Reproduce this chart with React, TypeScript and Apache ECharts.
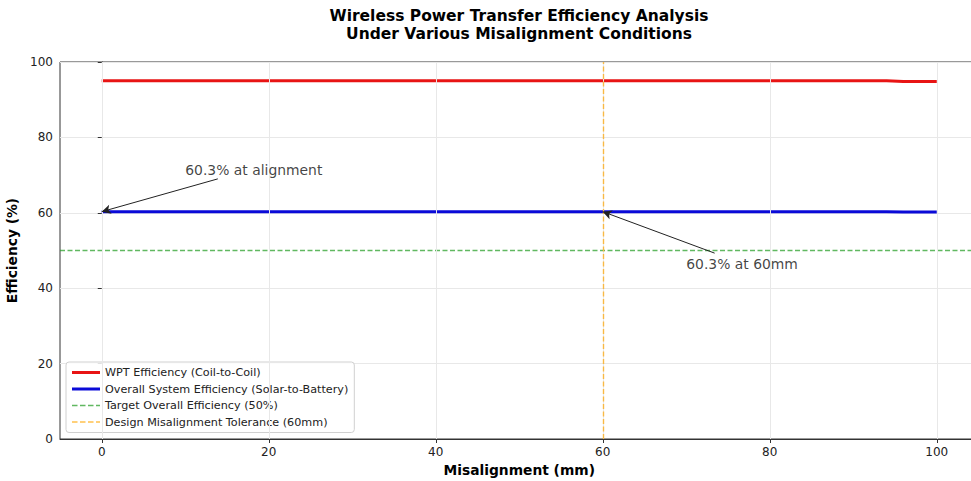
import React, { useEffect, useRef } from "react";
import * as echarts from "echarts";

const misalignment = [0, 10, 20, 30, 40, 50, 60, 70, 80, 90, 94, 96, 100];
const wptEfficiency = [95.0, 95.0, 95.0, 95.0, 95.0, 95.0, 95.0, 95.0, 95.0, 95.0, 95.0, 94.8, 94.8];
const overallEfficiency = [60.3, 60.3, 60.3, 60.3, 60.3, 60.3, 60.3, 60.3, 60.3, 60.3, 60.3, 60.2, 60.2];
const targetEfficiency = 50;
const designTolerance = 60;
const xTicks = [0, 20, 40, 60, 80, 100];
const xRange = [-5, 105];
const yRange = [0, 100];

const annotationTexts = ["60.3% at alignment", "60.3% at 60mm"];
const annotationTextPos = [[10, 71.4], [70, 46.4]];
const annotationTails = [[13.9, 69.0], [73.4, 49.3]];
const annotationHeads = [[0, 60.3], [60, 60.3]];

const FONT = "DejaVu Sans";

const SOLID_ICON = "path://M0,0H28V3H0Z";
const DASH_ICON =
  "path://M0,0H5.5V1.5H0ZM8,0H13.5V1.5H8ZM16,0H21.5V1.5H16ZM24,0H28V1.5H24Z";

export default function App() {
  const ref = useRef<HTMLDivElement>(null);
  useEffect(() => {
    const chart = echarts.init(ref.current!, null, { renderer: "svg" });
    const legendNames = [
      "WPT Efficiency (Coil-to-Coil)",
      "Overall System Efficiency (Solar-to-Battery)",
      "Target Overall Efficiency (50%)",
      "Design Misalignment Tolerance (60mm)",
    ];
    const orange = "rgba(255,165,0,0.7)";
    const green = "rgba(44,160,44,0.75)";
    const titleStyle = {
      fontFamily: FONT,
      fontWeight: "bold",
      fontSize: 15.5,
      lineHeight: 15.5,
      color: "#000",
    };
    chart.setOption({
      animation: false,
      backgroundColor: "#ffffff",
      title: {
        text: "Wireless Power Transfer Efficiency Analysis",
        subtext: "Under Various Misalignment Conditions",
        left: 519,
        top: 8,
        padding: 0,
        itemGap: 2,
        textAlign: "center",
        textStyle: titleStyle,
        subtextStyle: titleStyle,
      },
      legend: {
        data: [
          { name: legendNames[0], icon: SOLID_ICON },
          { name: legendNames[1], icon: SOLID_ICON },
          { name: legendNames[2], icon: DASH_ICON },
          { name: legendNames[3], icon: DASH_ICON },
        ],
        orient: "vertical",
        left: 66,
        top: 362,
        itemWidth: 28,
        itemHeight: 10,
        itemGap: 5.5,
        padding: [5, 6, 5, 6],
        backgroundColor: "rgba(255,255,255,0.85)",
        borderColor: "#d0d0d0",
        borderWidth: 1,
        borderRadius: 3,
        textStyle: { fontFamily: FONT, fontSize: 11.2, color: "#222" },
      },
      grid: {
        left: 60,
        top: 62,
        width: 918.5,
        height: 377,
        show: true,
        borderColor: "#333",
        borderWidth: 1,
        backgroundColor: "transparent",
        containLabel: false,
        outerBoundsMode: "none",
      },
      xAxis: {
        type: "value",
        min: xRange[0],
        max: xRange[1],
        name: "Misalignment (mm)",
        nameLocation: "middle",
        nameGap: 22,
        nameTextStyle: { fontFamily: FONT, fontWeight: "bold", fontSize: 13.8, color: "#000" },
        axisLine: { show: true, onZero: false, lineStyle: { color: "#333", width: 1 } },
        axisTick: { show: true, customValues: xTicks, length: 4, lineStyle: { color: "#333" } },
        axisLabel: {
          customValues: xTicks,
          margin: 7,
          fontFamily: FONT,
          fontSize: 12,
          color: "#222",
        },
        splitLine: { show: false },
      },
      yAxis: {
        type: "value",
        min: yRange[0],
        max: yRange[1],
        interval: 20,
        name: "Efficiency (%)",
        nameLocation: "middle",
        nameGap: 39,
        nameTextStyle: { fontFamily: FONT, fontWeight: "bold", fontSize: 13.8, color: "#000" },
        axisLine: { show: true, lineStyle: { color: "#333", width: 1 } },
        axisTick: { show: true, length: 4, lineStyle: { color: "#333" } },
        axisLabel: { margin: 7, fontFamily: FONT, fontSize: 12, color: "#222" },
        splitLine: { show: true, lineStyle: { color: "#e8e8e8", width: 1 } },
      },
      series: [
        {
          name: "xgrid",
          type: "line",
          data: [],
          silent: true,
          markLine: {
            silent: true,
            symbol: ["none", "none"],
            label: { show: false },
            lineStyle: { color: "#e8e8e8", width: 1, type: "solid" },
            data: xTicks.map((v) => ({ xAxis: v })),
          },
        },
        {
          name: legendNames[2],
          type: "line",
          data: [[xRange[0], targetEfficiency], [xRange[1], targetEfficiency]],
          showSymbol: false,
          symbol: "none",
          lineStyle: { color: green, width: 1.4, type: [5, 2.5] },
          itemStyle: { color: green },
          z: 3,
        },
        {
          name: legendNames[3],
          type: "line",
          data: [],
          symbol: "none",
          lineStyle: { color: orange, width: 1.4, type: [5, 2.5] },
          itemStyle: { color: orange },
          z: 3,
          markLine: {
            silent: true,
            symbol: ["none", "none"],
            label: { show: false },
            lineStyle: { color: orange, width: 1.4, type: [5, 2.5] },
            data: [{ xAxis: designTolerance }],
          },
        },
        {
          name: legendNames[0],
          type: "line",
          data: misalignment.map((x, i) => [x, wptEfficiency[i]]),
          showSymbol: false,
          symbol: "none",
          lineStyle: { color: "#e81414", width: 3 },
          itemStyle: { color: "#e81414" },
          z: 4,
        },
        {
          name: legendNames[1],
          type: "line",
          data: misalignment.map((x, i) => [x, overallEfficiency[i]]),
          showSymbol: false,
          symbol: "none",
          lineStyle: { color: "#0a0ad8", width: 3 },
          itemStyle: { color: "#0a0ad8" },
          z: 4,
        },
        {
          name: "annotations",
          type: "scatter",
          symbolSize: 0,
          silent: true,
          z: 6,
          data: annotationTexts.map((t, i) => ({
            value: annotationTextPos[i],
            label: { formatter: t },
          })),
          label: {
            show: true,
            position: [0, 0],
            align: "left",
            verticalAlign: "middle",
            fontFamily: FONT,
            fontSize: 13.9,
            color: "#111",
          },
          markLine: {
            silent: true,
            symbol: ["none", "arrow"],
            symbolSize: [7, 9],
            label: { show: false },
            lineStyle: { color: "#222", width: 1, type: "solid" },
            data: annotationTails.map((t, i) => [
              { coord: t },
              { coord: annotationHeads[i] },
            ]),
          },
        },
      ],
    });
    return () => chart.dispose();
  }, []);
  return (
    <div
      ref={ref}
      style={{ position: "fixed", left: 0, top: 0, width: 971, height: 481 }}
    />
  );
}
